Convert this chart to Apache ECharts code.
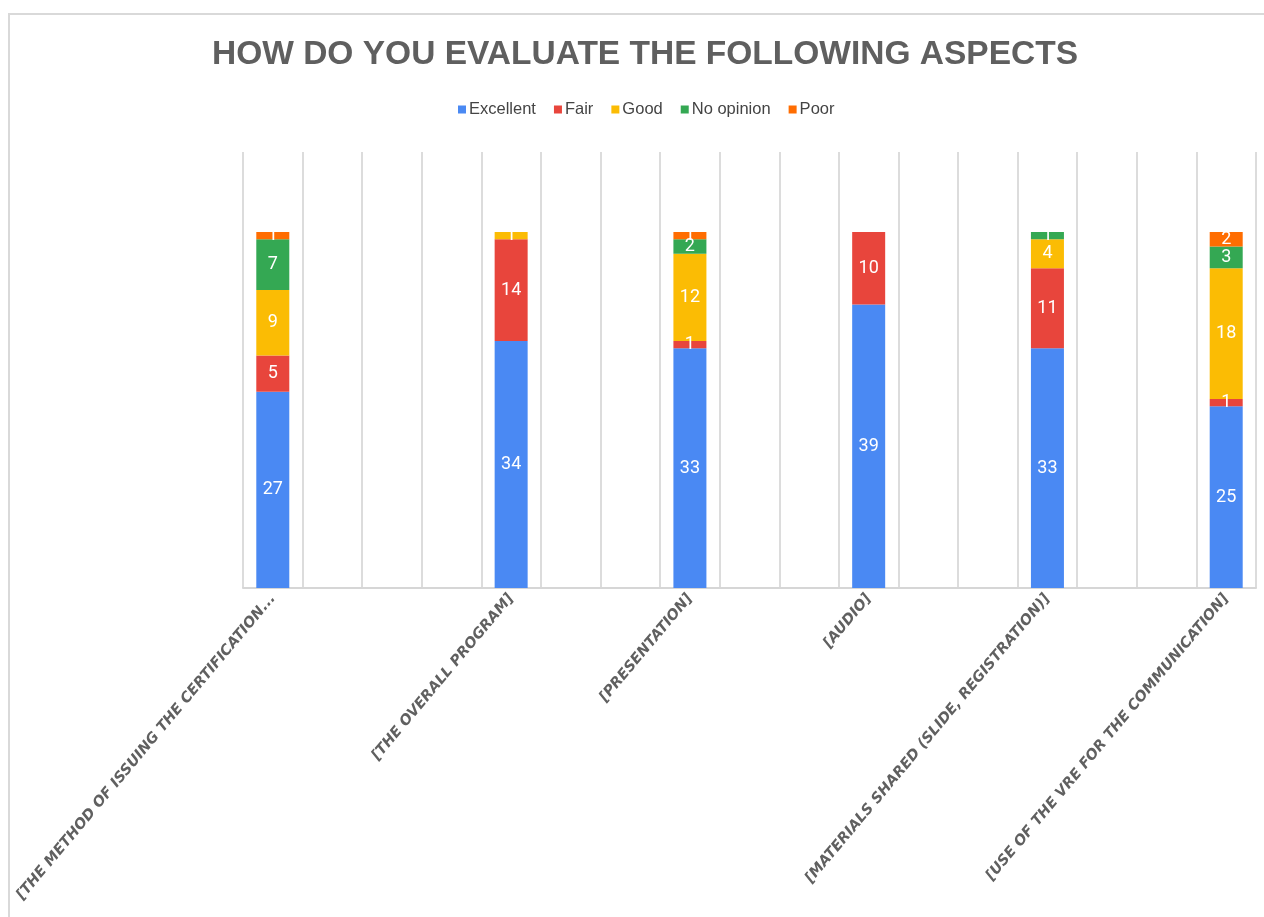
<!DOCTYPE html>
<html>
<head>
<meta charset="utf-8">
<title>How do you evaluate the following aspects</title>
<script src="https://cdn.jsdelivr.net/npm/echarts@6/dist/echarts.min.js"></script>
<style>
  html, body { margin: 0; padding: 0; background: #fff; }
  #chart { width: 1264px; height: 917px; }
</style>
</head>
<body>
<div id="chart"></div>
<script>
// 17 slots on the category axis, only six of them carry a question
var categories = [
  "[THE METHOD OF ISSUING THE CERTIFICATION...", "", "", "",
  "[THE OVERALL PROGRAM]", "", "",
  "[PRESENTATION]", "", "",
  "[AUDIO]", "", "",
  "[MATERIALS SHARED (SLIDE, REGISTRATION)]", "", "",
  "[USE OF THE VRE FOR THE COMMUNICATION]"
];
var seriesNames = ["Excellent", "Fair", "Good", "No opinion", "Poor"];
var excellent = [27, null, null, null, 34, null, null, 33, null, null, 39, null, null, 33, null, null, 25];
var fair      = [5,  null, null, null, 14, null, null, 1,  null, null, 10, null, null, 11, null, null, 1];
var good      = [9,  null, null, null, 1,  null, null, 12, null, null, null, null, null, 4, null, null, 18];
var noOpinion = [7,  null, null, null, null, null, null, 2, null, null, null, null, null, 1, null, null, 3];
var poor      = [1,  null, null, null, null, null, null, 1, null, null, null, null, null, null, null, null, 2];
var colors = ["#4a89f3", "#e8453c", "#fbbc04", "#34a853", "#ff6d01"];

var chart = echarts.init(document.getElementById("chart"));

var values = [excellent, fair, good, noOpinion, poor];
var series = values.map(function (data, i) {
  return {
    name: seriesNames[i],
    type: "bar",
    stack: "total",
    barWidth: 33,
    data: data,
    itemStyle: { color: colors[i] },
    label: {
      show: true,
      position: "inside",
      color: "#fff",
      fontSize: 18,
      fontFamily: "Roboto, 'Liberation Sans', sans-serif"
    }
  };
});

var option = {
  backgroundColor: "#fff",
  animation: false,
  color: colors,
  title: {
    text: "HOW DO YOU EVALUATE THE FOLLOWING ASPECTS",
    left: 207,
    top: 33,
    textStyle: {
      fontSize: 33.5,
      fontWeight: "bold",
      color: "#5f5f5f",
      fontFamily: "'Liberation Sans', Arial, sans-serif"
    }
  },
  legend: {
    data: seriesNames,
    left: 453,
    top: 96,
    icon: "rect",
    itemWidth: 8,
    itemHeight: 8,
    itemGap: 18,
    textStyle: {
      fontSize: 16.5,
      color: "#444",
      fontFamily: "'Liberation Sans', Arial, sans-serif",
      padding: [0, 0, 0, -2]
    }
  },
  grid: {
    left: 243,
    right: 8,
    top: 152,
    bottom: 329,
    containLabel: false
  },
  xAxis: {
    type: "category",
    data: categories,
    axisLine: { lineStyle: { color: "#d6d6d6", width: 2 } },
    axisTick: { show: false },
    splitLine: { show: true, lineStyle: { color: "#dcdcdc", width: 2 } },
    axisLabel: {
      interval: 0,
      rotate: 50,
      margin: 8,
      fontSize: 14.5,
      fontWeight: "bold",
      fontStyle: "italic",
      color: "#606060",
      fontFamily: "'DejaVu Sans', sans-serif"
    }
  },
  yAxis: {
    type: "value",
    min: 0,
    max: 60,
    show: false,
    splitLine: { show: false }
  },
  graphic: [
    {
      type: "rect",
      shape: { x: 9, y: 14, width: 1300, height: 960 },
      style: { fill: null, stroke: "#d9d9d9", lineWidth: 2 },
      silent: true
    }
  ],
  series: series
};

chart.setOption(option);
</script>
</body>
</html>
